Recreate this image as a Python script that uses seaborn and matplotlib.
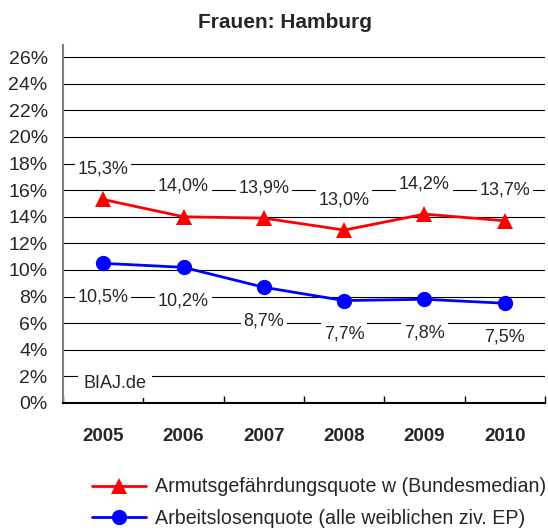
import numpy as np
import pandas as pd
import seaborn as sns
import matplotlib.pyplot as plt

# Data
years = ["2005", "2006", "2007", "2008", "2009", "2010"]
armut = [15.3, 14.0, 13.9, 13.0, 14.2, 13.7]
alq = [10.5, 10.2, 8.7, 7.7, 7.8, 7.5]
armut_label = "Armutsgefährdungsquote w (Bundesmedian)"
alq_label = "Arbeitslosenquote (alle weiblichen ziv. EP)"
y_ticks = list(range(0, 27, 2))

sns.set_style("white")
plt.rcParams["font.family"] = ["Liberation Sans", "DejaVu Sans"]

fig = plt.figure(figsize=(5.48, 5.32), dpi=100)
ax = fig.add_axes([0.115, 0.2425, 0.8795, 0.6725])

df_armut = pd.DataFrame({"Jahr": years, "Wert": armut})
df_alq = pd.DataFrame({"Jahr": years, "Wert": alq})

sns.lineplot(data=df_armut, x="Jahr", y="Wert", ax=ax, color="#ff0000",
             linewidth=2, marker="^", markersize=12, markeredgewidth=0,
             label=armut_label, zorder=4)
sns.lineplot(data=df_alq, x="Jahr", y="Wert", ax=ax, color="#0000ff",
             linewidth=2, marker="o", markersize=11, markeredgewidth=0,
             label=alq_label, zorder=4)

# horizontal grid
for t in y_ticks[1:]:
    ax.axhline(t, color="black", linewidth=0.8, zorder=1)

# value labels
box = dict(boxstyle="square,pad=0.15", fc="white", ec="none")
for i, v in enumerate(armut):
    ax.annotate(f"{v:.1f}%".replace(".", ","), (i, v), xytext=(0, 22),
                textcoords="offset points", ha="center", va="center",
                fontsize=13, bbox=box, zorder=3)
for i, v in enumerate(alq):
    ax.annotate(f"{v:.1f}%".replace(".", ","), (i, v), xytext=(0, -24),
                textcoords="offset points", ha="center", va="center",
                fontsize=13, bbox=box, zorder=3)

ax.text(-0.25, 1.45, "BIAJ.de", ha="left", va="center", fontsize=13,
        bbox=dict(boxstyle="square,pad=0.3", fc="white", ec="none"), zorder=3)

ax.set_xlim(-0.5, 5.5)
ax.set_ylim(0, 26.9)
ax.set_yticks(y_ticks)
ax.set_yticklabels([f"{t}%" for t in y_ticks], fontsize=14)
ax.tick_params(axis="y", length=0, pad=11)

# category labels between boundary ticks
ax.set_xticks(np.arange(-0.5, 6, 1))
ax.set_xticklabels([])
ax.tick_params(axis="x", which="major", direction="in", length=5, width=1,
               color="black", bottom=True)
ax.set_xticks(np.arange(len(years)), minor=True)
ax.set_xticklabels(years, minor=True, fontsize=13.5, fontweight="bold")
ax.tick_params(axis="x", which="minor", length=0, pad=18)
ax.set_xlabel("")
ax.set_ylabel("")

for s in ["top", "right"]:
    ax.spines[s].set_visible(False)
ax.spines["left"].set_color("gray")
ax.spines["left"].set_linewidth(1.5)
ax.spines["bottom"].set_color("black")
ax.spines["bottom"].set_linewidth(1.5)

fig.text(0.52, 0.958, "Frauen: Hamburg", fontsize=15, fontweight="bold",
         ha="center", va="center")

handles, labels = ax.get_legend_handles_labels()
ax.get_legend().remove()
fig.legend(handles, labels, loc="lower left", bbox_to_anchor=(0.135, -0.026),
           frameon=False, fontsize=14.1, handlelength=2.8, labelspacing=0.65,
           handletextpad=0.45)

fig.savefig("out.png", dpi=100)
